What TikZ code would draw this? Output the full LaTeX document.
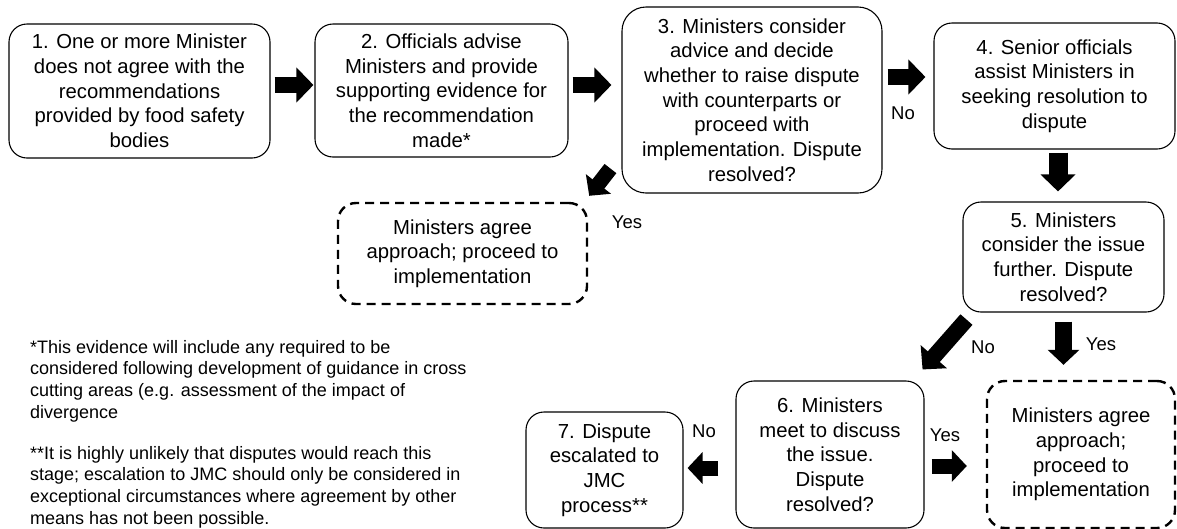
\documentclass[tikz,border=0pt]{standalone}
\usepackage{fontspec}
\setmainfont{Liberation Sans}
\usetikzlibrary{arrows.meta}

\begin{document}
\begin{tikzpicture}[x=1pt,y=-1pt,
    box/.style={draw,line width=1.1pt,rounded corners=18pt,align=center,inner sep=0pt,font=\fontsize{20.3}{24.7}\selectfont},
    okbox/.style={box,line width=2.4pt,dash pattern=on 9pt off 6pt},
    fat/.style={line width=16pt,-{Triangle[width=34pt,length=17pt]}},
    slim/.style={line width=15pt,-{Triangle[width=31pt,length=15pt]}},
    lab/.style={inner sep=0pt,font=\fontsize{18.5}{22}\selectfont},
    note/.style={anchor=north west,align=left,inner sep=0pt,font=\fontsize{18}{21.7}\selectfont}]
        \useasboundingbox (0,0) rectangle (1177,528);
        \node[box,minimum width=261pt,minimum height=134pt] (b1) at (139.5,91) {1. One or more Minister\\does not agree with the\\recommendations\\provided by food safety\\bodies};
        \node[box,minimum width=253pt,minimum height=133pt] (b2) at (441.5,90.5) {2. Officials advise\\Ministers and provide\\supporting evidence for\\the recommendation\\made*};
        \node[box,minimum width=260pt,minimum height=186pt,rounded corners=24pt] (b3) at (752,100) {3. Ministers consider\\advice and decide\\whether to raise dispute\\with counterparts or\\proceed with\\implementation. Dispute\\resolved?};
        \node[box,minimum width=241pt,minimum height=126pt] (b4) at (1054.5,86) {4. Senior officials\\assist Ministers in\\seeking resolution to\\dispute};
        \node[box,minimum width=201pt,minimum height=110pt] (b5) at (1063.5,257) {5. Ministers\\consider the issue\\further. Dispute\\resolved?};
        \node[box,minimum width=188pt,minimum height=147pt] (b6) at (830,454.5) {6. Ministers\\meet to discuss\\the issue.\\Dispute\\resolved?};
        \node[box,minimum width=157pt,minimum height=116pt] (b7) at (604.5,470) {7. Dispute\\escalated to\\JMC\\process**};
        \node[okbox,minimum width=249pt,minimum height=101pt] (d1) at (462.5,253.5) {Ministers agree\\approach; proceed to\\implementation};
        \node[okbox,minimum width=188pt,minimum height=147pt] (d2) at (1081,454.5) {Ministers agree\\approach;\\proceed to\\implementation};

        \draw[fat,shorten <=4pt,shorten >=1pt] ([yshift=6pt]b1.east) -- ([yshift=6pt]b1.east -| b2.west);
        \draw[fat,shorten <=4pt,shorten >=10pt] ([yshift=5.5pt]b2.east) -- ([yshift=5.5pt]b2.east -| b3.west);
        \draw[fat,shorten <=5pt,shorten >=8pt] ([yshift=23pt]b3.east) -- ([yshift=23pt]b3.east -| b4.west);
        \draw[fat,line width=19pt,shorten <=3pt,shorten >=10pt] ([xshift=3.5pt]b4.south) -- ([xshift=3.5pt]b4.south |- b5.north);
        \draw[slim,line width=17pt,shorten <=9pt,shorten >=15pt] (b5.south) -- (b5.south |- d2.north);
        \draw[fat] ([shift={(4pt,-7pt)}]b5.south west) -- ([shift={(-2pt,11pt)}]b6.north east);
        \draw[slim] ([shift={(-11pt,25pt)}]b3.south west) -- ([shift={(1pt,6pt)}]d1.north east);
        \draw[slim,shorten <=17pt,shorten >=4pt] ([yshift=-13.5pt]b6.west) -- ([yshift=-13.5pt]b6.west -| b7.east);
        \draw[slim,shorten <=7pt,shorten >=19pt] ([yshift=-11.5pt]b6.east) -- ([yshift=-11.5pt]b6.east -| d2.west);

        \node[lab] (no1) at (903,113) {No};
        \node[lab] (yes1) at (627,222) {Yes};
        \node[lab] (no2) at (983,347) {No};
        \node[lab] (yes2) at (1101,344) {Yes};
        \node[lab] (no3) at (704,431) {No};
        \node[lab] (yes3) at (945,435) {Yes};

        \node[note] (fn1) at (30,340) {*This evidence will include any required to be\\considered following development of guidance in cross\\cutting areas (e.g. assessment of the impact of\\divergence};
        \node[note] (fn2) at (30,446) {**It is highly unlikely that disputes would reach this\\stage; escalation to JMC should only be considered in\\exceptional circumstances where agreement by other\\means has not been possible.};
    \end{tikzpicture}
\end{document}
